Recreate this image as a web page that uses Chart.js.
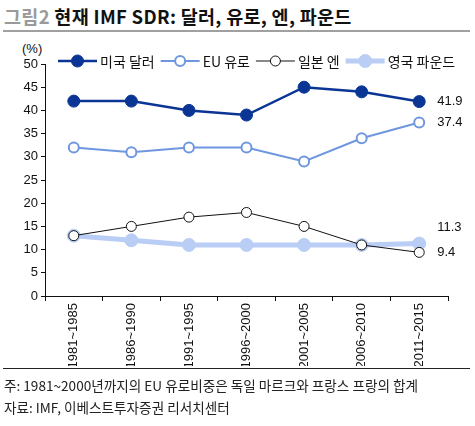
<!DOCTYPE html>
<html>
<head>
<meta charset="utf-8">
<script src="https://cdn.jsdelivr.net/npm/chart.js@4.4.0/dist/chart.umd.min.js"></script>
<style>
  body { margin: 0; background: #fff; }
  #wrap { position: relative; width: 475px; height: 426px; overflow: hidden; font-family: "Noto Sans CJK KR", sans-serif; }
  #title { position: absolute; left: 4px; top: 3px; font-size: 18.5px; font-weight: bold; color: #111; white-space: nowrap; letter-spacing: 0.3px; }
  #title .fig { color: #9a9a9a; }
  .rule { position: absolute; left: 3px; width: 467px; background: #a0a0a0; }
  #unit { position: absolute; left: 22px; top: 41px; font-family: "Liberation Sans Narrow", "Liberation Sans", sans-serif; font-size: 13px; color: #111; }
  .note { position: absolute; left: 4px; font-size: 13.6px; color: #222; white-space: nowrap; }
  canvas { position: absolute; left: 0; top: 0; }
</style>
</head>
<body>
<div id="wrap">
  <div id="title"><span class="fig">그림2</span> 현재 IMF SDR: 달러, 유로, 엔, 파운드</div>
  <div class="rule" style="top:30px;height:2px;"></div>
  <div id="unit">(%)</div>
  <canvas id="sdrChart" width="475" height="426"></canvas>
  <div class="rule" style="top:368px;height:1px;background:#222;"></div>
  <div class="note" style="top:375px;">주: 1981~2000년까지의 EU 유로비중은 독일 마르크와 프랑스 프랑의 합계</div>
  <div class="note" style="top:397px;">자료: IMF, 이베스트투자증권 리서치센터</div>
</div>
<script>
// --- DATA ---
const periods = ['1981~1985', '1986~1990', '1991~1995', '1996~2000', '2001~2005', '2006~2010', '2011~2015'];
const usDollar = [42, 42, 40, 39, 45, 44, 41.9];
const euEuro = [32, 31, 32, 32, 29, 34, 37.4];
const japanYen = [13, 15, 17, 18, 15, 11, 9.4];
const ukPound = [13, 12, 11, 11, 11, 11, 11.3];
const yTicks = [0, 5, 10, 15, 20, 25, 30, 35, 40, 45, 50];

const numFont = '"Liberation Sans Narrow", "Liberation Sans", sans-serif';
const krFont = '"Noto Sans CJK KR", sans-serif';

// last-point labels, with a small vertical nudge where they would collide
const endLabels = [
    { ds: 0, text: '41.9', dy: 0 },
    { ds: 1, text: '37.4', dy: 0 },
    { ds: 3, text: '11.3', dy: -16 },
    { ds: 2, text: '9.4', dy: 0 }
];

// legend: line with marker, drawn inside the top of the plot
const legendPlugin = {
    id: 'lineLegend',
    afterDraw(chart) {
        const ctx = chart.ctx;
        const y = 61;
        let x = 58;
        ctx.save();
        ctx.font = '14px ' + krFont;
        ctx.textBaseline = 'middle';
        chart.data.datasets.forEach(ds => {
            const len = 39;
            ctx.strokeStyle = ds.borderColor;
            ctx.lineWidth = ds.borderWidth;
            ctx.beginPath();
            ctx.moveTo(x, y);
            ctx.lineTo(x + len, y);
            ctx.stroke();
            ctx.beginPath();
            ctx.arc(x + len / 2, y, ds.pointRadius, 0, Math.PI * 2);
            ctx.fillStyle = ds.pointBackgroundColor;
            ctx.fill();
            ctx.lineWidth = ds.pointBorderWidth;
            ctx.strokeStyle = ds.pointBorderColor;
            ctx.stroke();
            ctx.fillStyle = '#111';
            ctx.fillText(ds.label, x + len + 3, y + 1);
            x += len + 3 + ctx.measureText(ds.label).width + 6;
        });
        ctx.restore();
    }
};

const endLabelPlugin = {
    id: 'endLabels',
    afterDatasetsDraw(chart) {
        const ctx = chart.ctx;
        ctx.save();
        ctx.font = '13px ' + numFont;
        ctx.fillStyle = '#111';
        ctx.textBaseline = 'middle';
        endLabels.forEach(l => {
            const meta = chart.getDatasetMeta(l.ds);
            const pt = meta.data[meta.data.length - 1];
            ctx.fillText(l.text, pt.x + 18, pt.y + l.dy);
        });
        ctx.restore();
    }
};

new Chart(document.getElementById('sdrChart'), {
    type: 'line',
    data: {
        labels: periods,
        datasets: [
            {
                label: '미국 달러', data: usDollar,
                borderColor: '#0a3595', borderWidth: 2.5,
                pointRadius: 6, pointBackgroundColor: '#0a3595', pointBorderColor: '#0a3595', pointBorderWidth: 1
            },
            {
                label: 'EU 유로', data: euEuro,
                borderColor: '#6f97df', borderWidth: 2,
                pointRadius: 5, pointBackgroundColor: '#ffffff', pointBorderColor: '#6f97df', pointBorderWidth: 2
            },
            {
                label: '일본 엔', data: japanYen,
                borderColor: '#111111', borderWidth: 1,
                pointRadius: 5, pointBackgroundColor: '#ffffff', pointBorderColor: '#111111', pointBorderWidth: 1
            },
            {
                label: '영국 파운드', data: ukPound,
                borderColor: '#b9cdf5', borderWidth: 5,
                pointRadius: 6.5, pointBackgroundColor: '#b9cdf5', pointBorderColor: '#b9cdf5', pointBorderWidth: 1
            }
        ]
    },
    options: {
        responsive: false,
        animation: false,
        layout: { padding: { top: 64, right: 27, bottom: 60, left: 0 } },
        plugins: { legend: { display: false }, tooltip: { enabled: false } },
        elements: { line: { tension: 0 } },
        scales: {
            x: {
                offset: true,
                border: { color: '#111', width: 1 },
                grid: { offset: true, drawOnChartArea: false, color: '#111', tickLength: 5 },
                ticks: {
                    maxRotation: 90, minRotation: 90, padding: 2,
                    color: '#111', font: { family: numFont, size: 13 }
                },
                afterFit(scale) { scale.height = 70; }
            },
            y: {
                min: 0, max: 50,
                afterBuildTicks(scale) { scale.ticks = yTicks.map(v => ({ value: v })); },
                border: { color: '#111', width: 1 },
                grid: { drawOnChartArea: false, color: '#111', tickLength: 4 },
                ticks: { padding: 3, color: '#111', font: { family: numFont, size: 13 } },
                afterFit(scale) { scale.width = 45; }
            }
        }
    },
    plugins: [legendPlugin, endLabelPlugin]
});
</script>
</body>
</html>
